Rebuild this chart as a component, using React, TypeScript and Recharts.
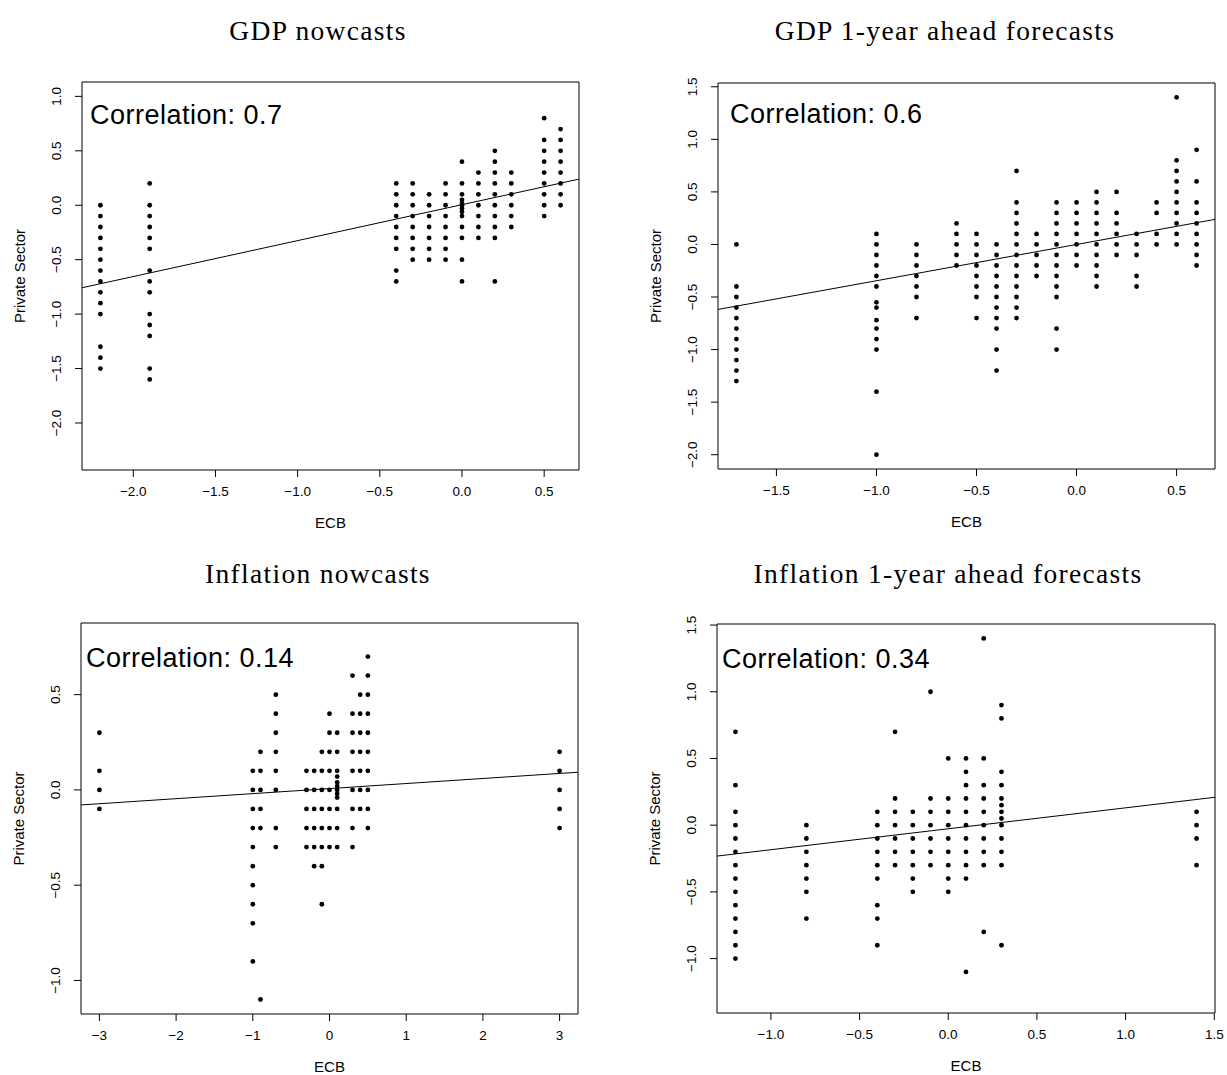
import { ScatterChart, Scatter, XAxis, YAxis, ReferenceLine, ReferenceArea } from 'recharts';

// GDP nowcasts: ECB value per column, private sector values in that column
const gdpNowX = [-2.2, -1.9, -0.4, -0.3, -0.2, -0.1, 0.0, 0.1, 0.2, 0.3, 0.5, 0.6];
const gdpNowY = [
  [0, -0.1, -0.2, -0.3, -0.4, -0.5, -0.6, -0.7, -0.8, -0.9, -1.0, -1.3, -1.4, -1.5],
  [0.2, 0, -0.1, -0.2, -0.3, -0.4, -0.6, -0.7, -0.8, -1.0, -1.1, -1.2, -1.5, -1.6],
  [0.2, 0.1, 0, -0.1, -0.2, -0.3, -0.4, -0.6, -0.7],
  [0.2, 0.1, 0, -0.1, -0.2, -0.3, -0.4, -0.5],
  [0.1, 0, -0.1, -0.2, -0.3, -0.4, -0.5],
  [0.2, 0.1, 0, -0.1, -0.2, -0.3, -0.4, -0.5],
  [0.4, 0.2, 0.1, 0.05, 0.02, 0, -0.03, -0.06, -0.1, -0.2, -0.3, -0.5, -0.7],
  [0.3, 0.2, 0.1, 0, -0.1, -0.2, -0.3],
  [0.5, 0.4, 0.3, 0.2, 0.1, 0, -0.1, -0.2, -0.3, -0.7],
  [0.3, 0.2, 0.1, 0, -0.1, -0.2],
  [0.8, 0.6, 0.5, 0.4, 0.3, 0.2, 0.1, 0, -0.1],
  [0.7, 0.6, 0.5, 0.4, 0.3, 0.2, 0.1, 0],
];

// GDP 1-year ahead forecasts
const gdpAheadX = [-1.7, -1.0, -0.8, -0.6, -0.5, -0.4, -0.3, -0.2, -0.1, 0.0, 0.1, 0.2, 0.3, 0.4, 0.5, 0.6];
const gdpAheadY = [
  [0, -0.4, -0.5, -0.6, -0.7, -0.8, -0.9, -1.0, -1.1, -1.2, -1.3],
  [0.1, 0, -0.1, -0.2, -0.3, -0.4, -0.55, -0.6, -0.72, -0.8, -0.9, -1.0, -1.4, -2.0],
  [0, -0.1, -0.2, -0.3, -0.4, -0.5, -0.7],
  [0.2, 0.1, 0, -0.1, -0.2],
  [0.1, 0, -0.1, -0.2, -0.3, -0.4, -0.5, -0.7],
  [0, -0.1, -0.2, -0.3, -0.4, -0.5, -0.6, -0.7, -0.8, -1.0, -1.2],
  [0.7, 0.4, 0.3, 0.2, 0.1, 0, -0.1, -0.2, -0.3, -0.4, -0.5, -0.6, -0.7],
  [0.1, 0, -0.1, -0.2, -0.3],
  [0.4, 0.3, 0.2, 0.1, 0, -0.1, -0.2, -0.3, -0.4, -0.5, -0.8, -1.0],
  [0.4, 0.3, 0.2, 0.1, 0, -0.1, -0.2],
  [0.5, 0.4, 0.3, 0.2, 0.1, 0, -0.1, -0.2, -0.3, -0.4],
  [0.5, 0.3, 0.2, 0.1, 0, -0.1],
  [0.1, 0, -0.1, -0.3, -0.4],
  [0.4, 0.3, 0.1, 0],
  [1.4, 0.8, 0.7, 0.6, 0.5, 0.4, 0.3, 0.2, 0.1, 0],
  [0.9, 0.6, 0.4, 0.3, 0.2, 0.1, 0, -0.1, -0.2],
];

// Inflation nowcasts
const inflNowX = [-3, -1.0, -0.9, -0.7, -0.3, -0.2, -0.1, 0.0, 0.1, 0.3, 0.4, 0.5, 3];
const inflNowY = [
  [0.3, 0.1, 0, -0.1],
  [0.1, 0, -0.1, -0.2, -0.3, -0.4, -0.5, -0.6, -0.7, -0.9],
  [0.2, 0.1, 0, -0.1, -0.2, -1.1],
  [0.5, 0.4, 0.3, 0.2, 0.1, 0, -0.2, -0.3],
  [0.1, 0, -0.1, -0.2, -0.3],
  [0.1, 0, -0.1, -0.2, -0.3, -0.4],
  [0.2, 0.1, 0, -0.1, -0.2, -0.3, -0.4, -0.6],
  [0.4, 0.3, 0.2, 0.1, 0, -0.1, -0.2, -0.3],
  [0.3, 0.2, 0.1, 0.07, 0.04, 0.02, 0, -0.02, -0.04, -0.1, -0.2, -0.3],
  [0.6, 0.4, 0.3, 0.2, 0.1, 0, -0.1, -0.2, -0.3],
  [0.5, 0.4, 0.3, 0.2, 0.1, 0, -0.1],
  [0.7, 0.6, 0.5, 0.4, 0.3, 0.2, 0.1, 0, -0.1, -0.2],
  [0.2, 0.1, 0, -0.1, -0.2],
];

// Inflation 1-year ahead forecasts
const inflAheadX = [-1.2, -0.8, -0.4, -0.3, -0.2, -0.1, 0.0, 0.1, 0.2, 0.3, 1.4];
const inflAheadY = [
  [0.7, 0.3, 0.1, 0, -0.1, -0.2, -0.3, -0.4, -0.5, -0.6, -0.7, -0.8, -0.9, -1.0],
  [0, -0.1, -0.2, -0.3, -0.4, -0.5, -0.7],
  [0.1, 0, -0.1, -0.2, -0.3, -0.4, -0.6, -0.7, -0.9],
  [0.7, 0.2, 0.1, 0, -0.1, -0.2, -0.3],
  [0.1, 0, -0.1, -0.2, -0.3, -0.4, -0.5],
  [1.0, 0.2, 0.1, 0, -0.1, -0.2, -0.3],
  [0.5, 0.2, 0.1, 0, -0.1, -0.2, -0.3, -0.4, -0.5],
  [0.5, 0.4, 0.3, 0.2, 0.1, 0, -0.1, -0.2, -0.3, -0.4, -1.1],
  [1.4, 0.5, 0.3, 0.2, 0.1, 0, -0.1, -0.2, -0.3, -0.8],
  [0.9, 0.8, 0.4, 0.3, 0.2, 0.15, 0.1, 0.05, 0, -0.1, -0.2, -0.3, -0.9],
  [0.1, 0, -0.1, -0.3],
];

const titles = ['GDP nowcasts', 'GDP 1-year ahead forecasts', 'Inflation nowcasts', 'Inflation 1-year ahead forecasts'];
const correlations = ['0.7', '0.6', '0.14', '0.34'];
// fitted line: intercept, slope
const fitIntercept = [0.005, 0.0, 0.007, -0.027];
const fitSlope = [0.33, 0.345, 0.0265, 0.157];

const xTicks = [
  [-2.0, -1.5, -1.0, -0.5, 0.0, 0.5],
  [-1.5, -1.0, -0.5, 0.0, 0.5],
  [-3, -2, -1, 0, 1, 2, 3],
  [-1.0, -0.5, 0.0, 0.5, 1.0, 1.5],
];
const yTicks = [
  [-2.0, -1.5, -1.0, -0.5, 0.0, 0.5, 1.0],
  [-2.0, -1.5, -1.0, -0.5, 0.0, 0.5, 1.0, 1.5],
  [-1.0, -0.5, 0.0, 0.5],
  [-1.0, -0.5, 0.0, 0.5, 1.0, 1.5],
];
const xDecimals = [1, 1, 0, 1];

const SANS = '"Liberation Sans", Arial, Helvetica, sans-serif';
const SERIF = '"Liberation Serif", "Times New Roman", serif';

// plot boxes in page pixels and axis ranges
const panels = [
  { box: { l: 82, r: 579, t: 82, b: 470 }, xd: [-2.312, 0.712], yd: [-2.432, 1.132], xs: gdpNowX, ys: gdpNowY, titleX: 318, titleY: 40 },
  { box: { l: 718, r: 1215, t: 83, b: 469 }, xd: [-1.792, 0.692], yd: [-2.136, 1.536], xs: gdpAheadX, ys: gdpAheadY, titleX: 945, titleY: 40 },
  { box: { l: 81, r: 578, t: 623, b: 1014 }, xd: [-3.24, 3.24], yd: [-1.176, 0.876], xs: inflNowX, ys: inflNowY, titleX: 318, titleY: 583 },
  { box: { l: 717, r: 1215, t: 624, b: 1013 }, xd: [-1.304, 1.504], yd: [-1.408, 1.508], xs: inflAheadX, ys: inflAheadY, titleX: 948, titleY: 583 },
];
const corrPos = [
  { x: 90, y: 124 },
  { x: 730, y: 123 },
  { x: 86, y: 667 },
  { x: 722, y: 668 },
];

const fmt = (dec: number) => (v: number) => (v < 0 ? '\u2212' : '') + Math.abs(v).toFixed(dec);

const Dot = (props: any) => <circle cx={props.cx} cy={props.cy} r={2.4} fill="#000" />;

const YTick = (props: any) => {
  const { x, y, payload } = props;
  return (
    <text x={x} y={y} transform={`rotate(-90 ${x} ${y})`} textAnchor="middle" fontSize={13.5} fontFamily={SANS} fill="#000">
      {fmt(1)(payload.value)}
    </text>
  );
};

const YW = 40;
const XH = 40;

function Panel({ idx }: { idx: number }) {
  const p = panels[idx];
  const { box, xd, yd } = p;
  const points = p.xs.flatMap((x, i) => p.ys[i].map((y) => ({ x, y })));
  const left = box.l - YW - 20;
  const top = box.t - 10;
  const width = box.r - box.l + YW + 20 + 10;
  const height = box.b - box.t + 10 + XH + 10;
  const a = fitIntercept[idx];
  const b = fitSlope[idx];
  return (
    <div style={{ position: 'absolute', left, top, width, height }}>
      <ScatterChart width={width} height={height} margin={{ top: 10, right: 10, bottom: 10, left: 20 }}>
        <XAxis
          type="number"
          dataKey="x"
          domain={xd}
          ticks={xTicks[idx]}
          allowDataOverflow
          axisLine={false}
          tickSize={7}
          tickMargin={9}
          height={XH}
          interval={0}
          tickFormatter={fmt(xDecimals[idx])}
          tick={{ fontSize: 13.5, fill: '#000', fontFamily: SANS }}
          tickLine={{ stroke: '#000' }}
        />
        <YAxis
          type="number"
          dataKey="y"
          domain={yd}
          ticks={yTicks[idx]}
          allowDataOverflow
          axisLine={false}
          tickSize={7}
          tickMargin={14}
          width={YW}
          interval={0}
          tick={YTick}
          tickLine={{ stroke: '#000' }}
        />
        <ReferenceArea x1={xd[0]} x2={xd[1]} y1={yd[0]} y2={yd[1]} fill="none" stroke="#000" strokeWidth={1} ifOverflow="visible" />
        <ReferenceLine
          segment={[
            { x: xd[0], y: a + b * xd[0] },
            { x: xd[1], y: a + b * xd[1] },
          ]}
          stroke="#000"
          strokeWidth={1}
          ifOverflow="visible"
        />
        <Scatter data={points} shape={Dot} isAnimationActive={false} />
      </ScatterChart>
    </div>
  );
}

export default function App() {
  return (
    <div style={{ position: 'absolute', left: 0, top: 0, width: 1227, height: 1075, background: '#fff' }}>
      <style>{'body{margin:0;background:#fff}'}</style>
      {panels.map((_, i) => (
        <Panel key={i} idx={i} />
      ))}
      <svg width={1227} height={1075} style={{ position: 'absolute', left: 0, top: 0, pointerEvents: 'none' }}>
        {panels.map((p, i) => {
          const cx = (p.box.l + p.box.r) / 2;
          const cy = (p.box.t + p.box.b) / 2;
          const yx = p.box.l - 57;
          return (
            <g key={i}>
              <text x={p.titleX} y={p.titleY} textAnchor="middle" fontFamily={SERIF} fontSize={27.5} letterSpacing={1.3} fill="#000">
                {titles[i]}
              </text>
              <text x={corrPos[i].x} y={corrPos[i].y} fontFamily={SANS} fontSize={27} letterSpacing={0.5} fill="#000">
                {`Correlation: ${correlations[i]}`}
              </text>
              <text x={cx} y={p.box.b + 58} textAnchor="middle" fontFamily={SANS} fontSize={15} fill="#000">
                ECB
              </text>
              <text x={yx} y={cy} transform={`rotate(-90 ${yx} ${cy})`} textAnchor="middle" fontFamily={SANS} fontSize={15} fill="#000">
                Private Sector
              </text>
            </g>
          );
        })}
      </svg>
    </div>
  );
}
